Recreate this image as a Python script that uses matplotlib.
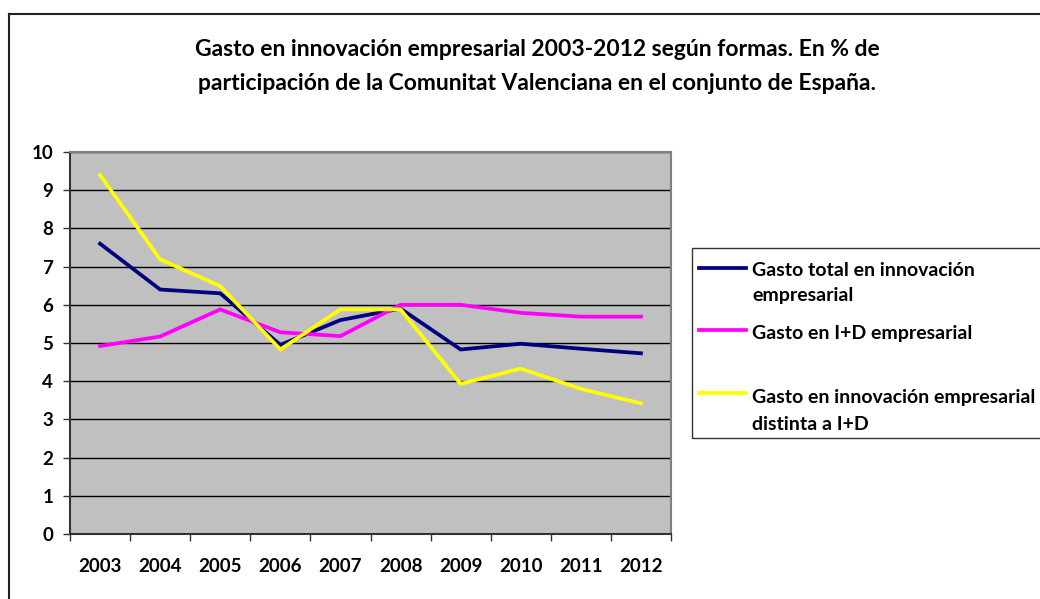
import matplotlib.pyplot as plt
from matplotlib.lines import Line2D
from matplotlib.patches import Rectangle

years = ["2003", "2004", "2005", "2006", "2007", "2008", "2009", "2010", "2011", "2012"]
gasto_total = [7.6, 6.4, 6.3, 4.95, 5.6, 5.9, 4.83, 4.98, 4.85, 4.73]
gasto_id = [4.92, 5.17, 5.88, 5.28, 5.18, 6.0, 6.0, 5.79, 5.69, 5.69]
gasto_no_id = [9.4, 7.19, 6.49, 4.83, 5.88, 5.88, 3.93, 4.33, 3.8, 3.42]

labels = ["Gasto total en innovación\nempresarial",
          "Gasto en I+D empresarial",
          "Gasto en innovación empresarial\ndistinta a I+D"]
colors = ["#000080", "#FF00FF", "#FFFF00"]

plt.rcParams['font.family'] = ['Lato', 'DejaVu Sans']
W, H = 1040, 599
fig = plt.figure(figsize=(W / 100, H / 100), dpi=100)

# plot area in pixels: left 70, right 671, top 152, bottom 534
ax = fig.add_axes([70 / W, 1 - 534 / H, 601 / W, 382 / H])
ax.set_facecolor("#C0C0C0")
x = range(len(years))
for vals, c in zip([gasto_total, gasto_id, gasto_no_id], colors):
    ax.plot(x, vals, color=c, lw=2.7, solid_joinstyle='miter', zorder=3)

ax.set_xlim(-0.5, len(years) - 0.5)
ax.set_ylim(0, 10)
ax.set_yticks(range(0, 11))
ax.set_yticklabels([str(i) for i in range(0, 11)], fontsize=13.5, fontweight='bold')
ax.set_xticks([i - 0.5 for i in range(len(years) + 1)])
ax.set_xticklabels([])
ax.set_xticks(list(x), minor=True)
ax.set_xticklabels(years, minor=True, fontsize=13.5, fontweight='bold')
ax.tick_params(axis='x', which='minor', length=0, pad=17)
ax.tick_params(axis='x', which='major', length=5, width=1, color="#333333")
ax.tick_params(axis='y', length=5, width=1, color="#333333", pad=7)
ax.grid(axis='y', color='black', lw=1, zorder=1)
for s in ['top', 'right']:
    ax.spines[s].set_color('#808080')
    ax.spines[s].set_linewidth(1.5)
for s in ['left', 'bottom']:
    ax.spines[s].set_color('#333333')
    ax.spines[s].set_linewidth(1.5)

fig.text(537 / W, 1 - 49 / H,
         "Gasto en innovación empresarial 2003-2012 según formas. En % de",
         ha='center', va='center', fontsize=16.5, fontweight='bold')
fig.text(537 / W, 1 - 84 / H,
         "participación de la Comunitat Valenciana en el conjunto de España.",
         ha='center', va='center', fontsize=16.5, fontweight='bold')

# outer chart border (left and top)
fig.add_artist(Line2D([9 / W, 9 / W], [0, 1 - 14 / H], color='#222222', lw=1.5))
fig.add_artist(Line2D([9 / W, 1], [1 - 14 / H, 1 - 14 / H], color='#222222', lw=1.5))

# legend box
fig.add_artist(Rectangle((692 / W, 1 - 438 / H), 360 / W, 190 / H,
                         fill=False, edgecolor='#333333', lw=1))
line_y = [268, 330, 393]
text_y = [[270, 296], [333], [397, 424]]
for lab, c, ly, ty in zip(labels, colors, line_y, text_y):
    fig.add_artist(Line2D([699 / W, 746 / W], [1 - ly / H, 1 - ly / H], color=c, lw=2.7))
    for line, yy in zip(lab.split("\n"), ty):
        fig.text(752 / W, 1 - yy / H, line, ha='left', va='center',
                 fontsize=14, fontweight='bold')

fig.savefig("out.png", dpi=100)
